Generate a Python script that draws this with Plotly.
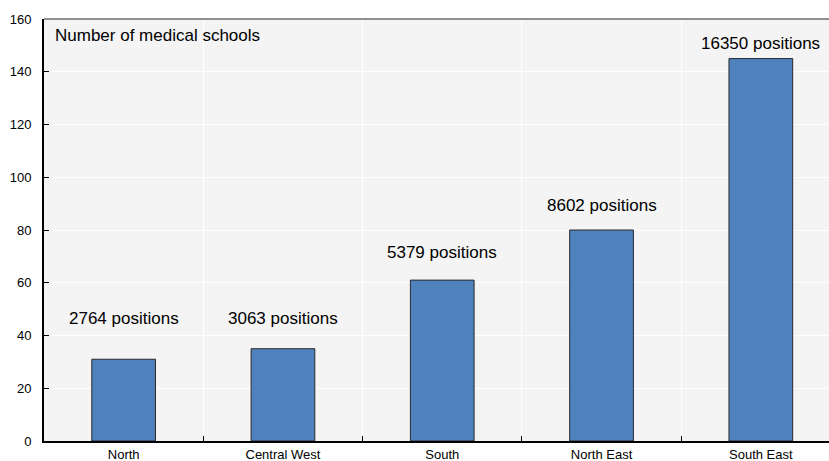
import plotly.graph_objects as go

regions = ["North", "Central West", "South", "North East", "South East"]
schools = [31, 35, 61, 80, 145]
positions = [2764, 3063, 5379, 8602, 16350]
# vertical placement (in axis units) of the "positions" captions
caption_y = [46.6, 46.6, 71.6, 89.4, 150.7]

y_ticks = [0, 20, 40, 60, 80, 100, 120, 140, 160]

FONT = "Liberation Sans, Arial, sans-serif"

fig = go.Figure()
fig.add_trace(go.Bar(
    x=regions,
    y=schools,
    width=0.4,
    marker=dict(color="#4F81BD", line=dict(color="#2a2a2a", width=1)),
    hoverinfo="x+y",
))

for r, p, cy in zip(regions, positions, caption_y):
    fig.add_annotation(
        x=r, y=cy, xref="x", yref="y",
        text=f"{p} positions", showarrow=False,
        font=dict(family=FONT, size=17, color="#000000"),
        xanchor="center", yanchor="middle",
    )

fig.add_annotation(
    x=0, y=1, xref="paper", yref="paper",
    xshift=9, yshift=-5,
    text="Number of medical schools", showarrow=False,
    font=dict(family=FONT, size=17, color="#000000"),
    xanchor="left", yanchor="top",
)

# top frame line
fig.add_shape(type="line", xref="paper", yref="paper",
              x0=0, x1=1, y0=1, y1=1,
              line=dict(color="#6e6e6e", width=1.5))

fig.update_layout(
    width=829, height=461,
    margin=dict(l=44, r=0, t=19, b=20),
    paper_bgcolor="#FFFFFF",
    plot_bgcolor="#F4F4F4",
    showlegend=False,
    font=dict(family=FONT, color="#000000"),
    bargap=0.6,
)

fig.update_xaxes(
    type="category",
    range=[-0.5, 4.428],
    tickson="boundaries",
    ticks="inside", ticklen=5, tickwidth=1.2, tickcolor="#000000",
    showgrid=True, gridcolor="#FFFFFF", gridwidth=1,
    showline=True, linecolor="#000000", linewidth=2,
    tickfont=dict(family=FONT, size=13, color="#000000"),
    fixedrange=True,
)

fig.update_yaxes(
    range=[0, 160],
    tickvals=y_ticks,
    ticks="inside", ticklen=5, tickwidth=1.2, tickcolor="#000000",
    showgrid=True, gridcolor="#FFFFFF", gridwidth=1,
    showline=True, linecolor="#000000", linewidth=2,
    zeroline=False,
    tickfont=dict(family=FONT, size=13, color="#000000"),
    ticklabelstandoff=8,
    fixedrange=True,
)

fig.write_html("out.html")
